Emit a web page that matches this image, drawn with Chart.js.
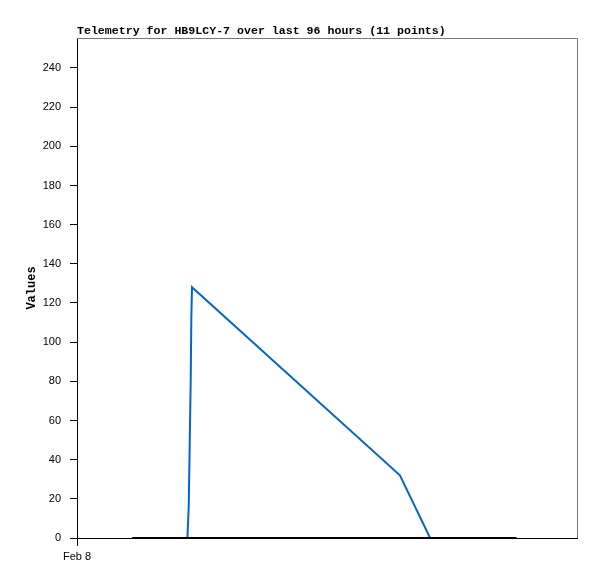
<!DOCTYPE html>
<html>
<head>
<meta charset="utf-8">
<title>Telemetry HB9LCY-7</title>
<script src="https://cdn.jsdelivr.net/npm/chart.js@4.4.1/dist/chart.umd.min.js"></script>
<style>
    html, body { margin: 0; padding: 0; background: #ffffff; }
    #wrap { width: 597px; height: 579px; }
</style>
</head>
<body>
<div id="wrap"><canvas id="telemetryChart" width="597" height="579"></canvas></div>
<script>
// Naslov i oznake
const chartTitle = 'Telemetry for HB9LCY-7 over last 96 hours (11 points)';
const yAxisTitle = 'Values';

// X osa: sati od pocetka prozora (96 h)
const xTickHours = [0];
const xTickLabels = ['Feb 8'];

// Y osa
const yTickValues = [0, 20, 40, 60, 80, 100, 120, 140, 160, 180, 200, 220, 240];

// Plava serija (sati, vrednosti)
const blueHours = [21.2, 21.45, 21.64, 21.83, 21.95, 22.08, 62.0, 67.8];
const blueValues = [0, 16, 48, 80, 112, 128, 32, 0];

// Crna serija (sve nule)
const blackHours = [10.6, 47.5, 84.4];
const blackValues = [0, 0, 0];

function toPoints(hours, values) {
    return hours.map((h, i) => ({ x: h, y: values[i] }));
}

// Sivi okvir gore i desno
const frameBorder = {
    id: 'frameBorder',
    beforeDatasetsDraw(chart) {
        const a = chart.chartArea;
        const ctx = chart.ctx;
        ctx.save();
        ctx.strokeStyle = '#777777';
        ctx.lineWidth = 1;
        ctx.beginPath();
        ctx.moveTo(a.left, a.top + 0.5);
        ctx.lineTo(a.right + 0.5, a.top + 0.5);
        ctx.lineTo(a.right + 0.5, a.bottom);
        ctx.stroke();
        ctx.restore();
    }
};

const ctx = document.getElementById('telemetryChart').getContext('2d');
new Chart(ctx, {
    type: 'line',
    data: {
        datasets: [
            {
                label: 'zero',
                data: toPoints(blackHours, blackValues),
                borderColor: '#000000',
                borderWidth: 2,
                pointRadius: 0,
                tension: 0,
                fill: false
            },
            {
                label: 'value',
                data: toPoints(blueHours, blueValues),
                borderColor: '#0066cc',
                borderWidth: 2,
                pointRadius: 0,
                tension: 0,
                fill: false
            }
        ]
    },
    plugins: [frameBorder],
    options: {
        responsive: false,
        animation: false,
        events: [],
        layout: { padding: { top: 25, right: 20, left: 0, bottom: 0 } },
        plugins: {
            legend: { display: false },
            tooltip: { enabled: false },
            title: {
                display: true,
                text: chartTitle,
                align: 'start',
                fullSize: false,
                color: '#000000',
                font: { family: '"Liberation Mono", "DejaVu Sans Mono", monospace', size: 11.6, weight: 'bold', lineHeight: 1 },
                padding: { top: 0, bottom: 1.4 }
            }
        },
        scales: {
            x: {
                type: 'linear',
                min: 0,
                max: 96,
                afterBuildTicks: (scale) => { scale.ticks = xTickHours.map(v => ({ value: v })); },
                afterFit: (scale) => { scale.height = 41; },
                ticks: {
                    autoSkip: false,
                    maxRotation: 0,
                    padding: 4,
                    color: '#000000',
                    font: { family: '"Liberation Sans", Arial, sans-serif', size: 11 },
                    callback: (value) => {
                        const i = xTickHours.indexOf(value);
                        return i >= 0 ? xTickLabels[i] : '';
                    }
                },
                grid: { drawOnChartArea: false, drawTicks: true, tickLength: 8, color: '#000000' },
                border: { display: true, color: '#000000', width: 1 }
            },
            y: {
                min: 0,
                max: 255.3,
                afterBuildTicks: (scale) => { scale.ticks = yTickValues.map(v => ({ value: v })); },
                afterFit: (scale) => { scale.width = 77; },
                ticks: {
                    padding: 9,
                    color: '#000000',
                    font: { family: '"Liberation Sans", Arial, sans-serif', size: 11 }
                },
                grid: { drawOnChartArea: false, drawTicks: true, tickLength: 7, color: '#000000' },
                border: { display: true, color: '#000000', width: 1 },
                title: {
                    display: true,
                    text: yAxisTitle,
                    color: '#000000',
                    font: { family: '"Liberation Mono", "DejaVu Sans Mono", monospace', size: 12, weight: 'bold', lineHeight: 1 },
                    padding: { top: 26, bottom: 0 }
                }
            }
        }
    }
});
</script>
</body>
</html>
